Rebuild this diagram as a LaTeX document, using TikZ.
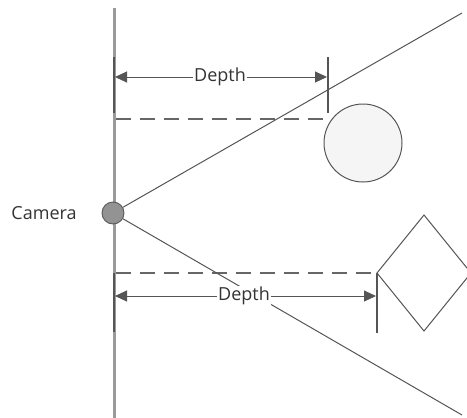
\documentclass[tikz,border=0pt]{standalone}
\usepackage{fontspec}
\setmainfont{Open Sans}
\usetikzlibrary{arrows.meta}
\definecolor{axisgray}{HTML}{9A9A9A}
\definecolor{linegray}{HTML}{555555}
\begin{document}
\begin{tikzpicture}[x=1pt,y=-1pt,
  thinline/.style={draw=linegray,line width=1pt},
  dimline/.style={draw=linegray,line width=1pt,{Triangle[length=12pt,width=11pt]}-{Triangle[length=12pt,width=11pt]}},
  tickline/.style={draw=linegray,line width=1.4pt},
  dashline/.style={draw=linegray!90,line width=2.2pt,dash pattern=on 15pt off 9pt},
  lbl/.style={font=\fontsize{18}{20}\selectfont,text=black!80,fill=white,inner sep=1pt}]
\useasboundingbox (0,0) rectangle (467,418);
\clip (0,0) rectangle (467,418);
% axis
\coordinate (axtop) at (114,8);
\coordinate (axbot) at (114,418);
\draw[axisgray,line width=3pt] (axtop) -- (axbot);
% camera
\node[circle,minimum size=22pt,inner sep=0pt,fill=gray!85,draw=black!65,line width=0.9pt] (cam) at (113,213) {};
\node[font=\fontsize{18}{20}\selectfont,text=black!80] (camlbl) at (44,213) {Camera};
% rays
\coordinate (rtop) at (462,13);
\coordinate (rbot) at (462,415);
% upper depth ticks
\coordinate (t1a) at (114,57); \coordinate (t1b) at (114,113);
\coordinate (t2a) at (328,57); \coordinate (t2b) at (328,113);
\draw[tickline] (t1a) -- (t1b);
\draw[tickline] (t2a) -- (t2b);
% circle object
\node[circle,minimum size=78pt,inner sep=0pt,draw=linegray,line width=1pt,fill=black!4] (ball) at (363,143) {};
% dashed lines
\coordinate (d1a) at (116,119); \coordinate (d1b) at (328,119);
\draw[dashline] (d1a) -- (d1b);
\coordinate (d2a) at (116,273); \coordinate (d2b) at (377,273);
\draw[dashline] (d2a) -- (d2b);
% lower ticks
\coordinate (t3a) at (114,273); \coordinate (t3b) at (114,332);
\coordinate (t4a) at (377,273); \coordinate (t4b) at (377,333);
\draw[tickline] (t3a) -- (t3b);
\draw[tickline] (t4a) -- (t4b);
% diamond
\coordinate (dl) at (377,273); \coordinate (dt) at (424,215);
\coordinate (dr) at (471,273); \coordinate (db) at (424,331);
\draw[thinline,fill=white] (dl) -- (dt) -- (dr) -- (db) -- cycle;
% rays drawn
\draw[thinline] (cam) -- (rtop);
\draw[thinline] (cam) -- (rbot);
% dimension arrows
\coordinate (a1l) at (115,77); \coordinate (a1r) at (327,77);
\draw[dimline] (a1l) -- (a1r);
\node[lbl] (dep1) at (220,77) {Depth};
\coordinate (a2l) at (115,296); \coordinate (a2r) at (376,296);
\draw[dimline] (a2l) -- (a2r);
\node[lbl] (dep2) at (244,296) {Depth};
\end{tikzpicture}
\end{document}
